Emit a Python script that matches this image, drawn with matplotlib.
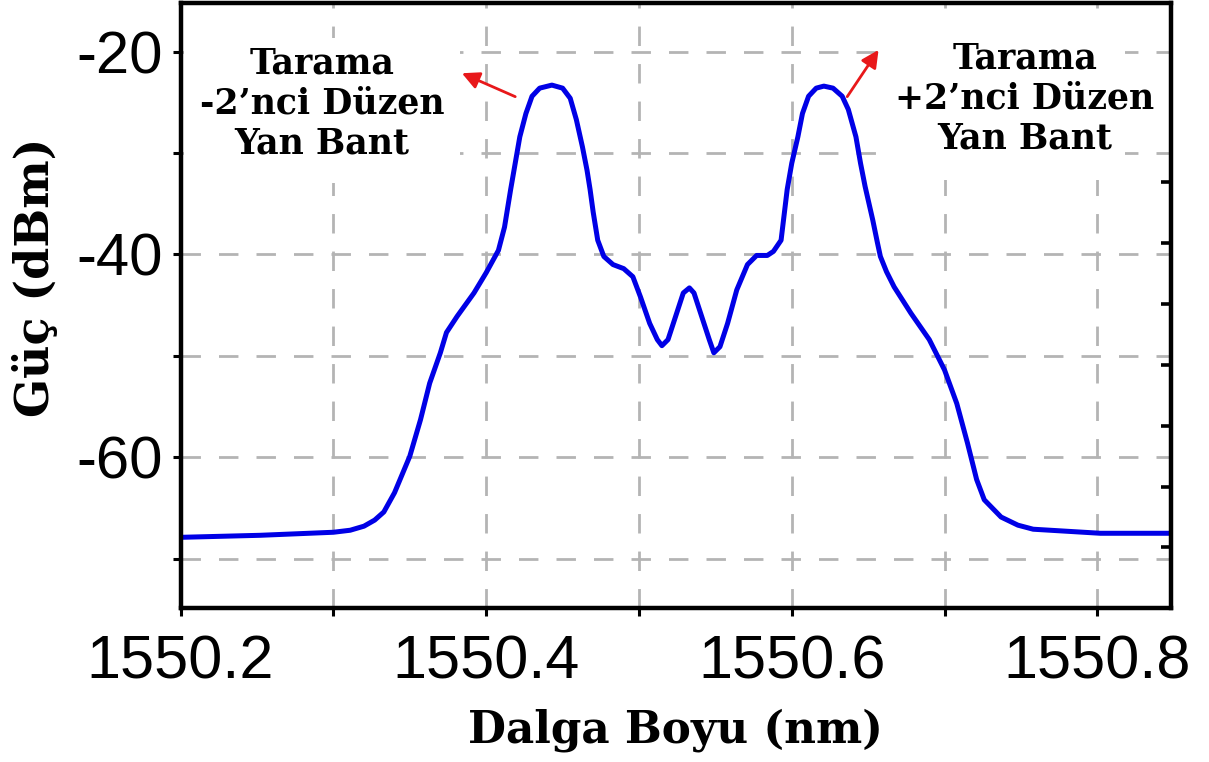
import matplotlib
matplotlib.use("Agg")
import matplotlib.pyplot as plt
from matplotlib.patches import Rectangle

# Optical spectrum (wavelength in nm, power in dBm)
wavelength = [
    1550.200, 1550.252, 1550.300, 1550.311, 1550.320, 1550.327, 1550.333, 1550.340,
    1550.350, 1550.357, 1550.363, 1550.370, 1550.374, 1550.381, 1550.392, 1550.400,
    1550.408, 1550.412, 1550.416, 1550.419, 1550.422, 1550.426, 1550.430, 1550.435,
    1550.443, 1550.450, 1550.455, 1550.459, 1550.463, 1550.466, 1550.468, 1550.470,
    1550.473, 1550.477, 1550.483, 1550.490, 1550.496, 1550.501, 1550.507, 1550.512,
    1550.515, 1550.519, 1550.524, 1550.529, 1550.533, 1550.536, 1550.541, 1550.546,
    1550.549, 1550.553, 1550.558, 1550.564, 1550.571, 1550.577, 1550.584, 1550.588,
    1550.593, 1550.597, 1550.600, 1550.604, 1550.607, 1550.611, 1550.616, 1550.621,
    1550.627, 1550.633, 1550.637, 1550.642, 1550.645, 1550.648, 1550.653, 1550.656,
    1550.658, 1550.662, 1550.667, 1550.678, 1550.690, 1550.700, 1550.708, 1550.715,
    1550.721, 1550.726, 1550.737, 1550.748, 1550.758, 1550.780, 1550.802, 1550.848,
]
power_dbm = [
    -67.9, -67.7, -67.4, -67.2, -66.8, -66.2, -65.4, -63.5,
    -59.9, -56.3, -52.7, -49.7, -47.7, -46.1, -43.8, -41.8,
    -39.6, -37.3, -33.6, -31.0, -28.4, -26.1, -24.4, -23.6,
    -23.3, -23.6, -24.6, -26.7, -29.4, -31.7, -33.6, -35.8,
    -38.6, -40.2, -41.0, -41.4, -42.2, -44.2, -46.8, -48.4,
    -49.0, -48.4, -46.1, -43.8, -43.3, -43.8, -46.1, -48.4,
    -49.7, -49.1, -46.8, -43.5, -41.0, -40.1, -40.1, -39.7,
    -38.6, -33.6, -31.0, -28.4, -26.1, -24.4, -23.6, -23.4,
    -23.6, -24.4, -25.7, -28.4, -31.0, -33.3, -36.6, -38.8,
    -40.2, -41.7, -43.2, -45.8, -48.4, -51.4, -54.7, -58.6,
    -62.2, -64.2, -65.9, -66.7, -67.1, -67.3, -67.5, -67.5,
]

x_ticks = [1550.2, 1550.3, 1550.4, 1550.5, 1550.6, 1550.7, 1550.8]
x_ticklabels = ["1550.2", "", "1550.4", "", "1550.6", "", "1550.8"]
y_ticks = [-70, -60, -50, -40, -30, -20]
y_ticklabels = ["", "-60", "", "-40", "", "-20"]
right_ticks = [-68.9, -62.9, -56.9, -50.9, -44.9, -38.9, -32.9]

left_note = "Tarama\n-2\u2019nci D\u00fczen\nYan Bant"
right_note = "Tarama\n+2\u2019nci D\u00fczen\nYan Bant"
xlabel = "Dalga Boyu (nm)"
ylabel = "G\u00fc\u00e7 (dBm)"

serif_bold = dict(family="DejaVu Serif", weight="bold")

fig = plt.figure(figsize=(12.09, 7.62), dpi=100)
ax = fig.add_axes([0.1494, 0.2017, 0.8189, 0.7944])

ax.plot(wavelength, power_dbm, color="#0000e6", lw=3.6,
        solid_joinstyle="round", solid_capstyle="round", zorder=4)

ax.set_xlim(1550.2, 1550.848)
ax.set_ylim(-74.9, -15.2)
ax.set_xticks(x_ticks)
ax.set_xticklabels(x_ticklabels, family="Liberation Sans", fontsize=44)
ax.set_yticks(y_ticks)
ax.set_yticklabels(y_ticklabels, family="Liberation Sans", fontsize=43)
ax.tick_params(axis="x", direction="out", length=6, width=2.2, pad=13)
ax.tick_params(axis="y", direction="out", length=6, width=2.2, pad=7)

ax.grid(True, color="#b4b4b4", lw=2.0, linestyle=(0, (7, 6.5)), zorder=1)
ax.set_axisbelow(True)

for sp in ax.spines.values():
    sp.set_linewidth(3.2)
    sp.set_zorder(6)

# Secondary scale on the right edge (ticks only)
ax2 = ax.twinx()
ax2.set_ylim(ax.get_ylim())
ax2.set_yticks(right_ticks)
ax2.set_yticklabels([])
ax2.tick_params(axis="y", direction="in", length=7, width=2.6)
for sp in ax2.spines.values():
    sp.set_visible(False)

# White panels behind the sideband notes
ax.add_patch(Rectangle((0.003, 0.7026), 0.279, 0.240, transform=ax.transAxes,
                       facecolor="white", edgecolor="none", zorder=2))
ax.add_patch(Rectangle((0.703, 0.7076), 0.251, 0.261, transform=ax.transAxes,
                       facecolor="white", edgecolor="none", zorder=2))

ax.text(1550.2926, -25.1, left_note, ha="center", va="center",
        multialignment="center", fontsize=25, linespacing=1.22,
        zorder=5, **serif_bold)
ax.text(1550.7524, -24.6, right_note, ha="center", va="center",
        multialignment="center", fontsize=25, linespacing=1.22,
        zorder=5, **serif_bold)

arrow_kw = dict(arrowstyle="-|>", color="#e8181a", lw=2.0, mutation_scale=26,
                shrinkA=0, shrinkB=0)
ax.annotate("", xy=(1550.3841, -22.13), xytext=(1550.4190, -24.44),
            arrowprops=arrow_kw, zorder=5)
ax.annotate("", xy=(1550.6568, -19.83), xytext=(1550.6363, -24.44),
            arrowprops=arrow_kw, zorder=5)

ax.set_xlabel(xlabel, fontsize=31.5, **serif_bold)
ax.xaxis.set_label_coords(0.5, -0.201)
ax.xaxis.label.set_va("center")
ax.set_ylabel(ylabel, fontsize=33, **serif_bold)
ax.yaxis.set_label_coords(-0.146, 0.547)
ax.yaxis.label.set_va("center")

fig.savefig("out.png", dpi=100, facecolor="white")
